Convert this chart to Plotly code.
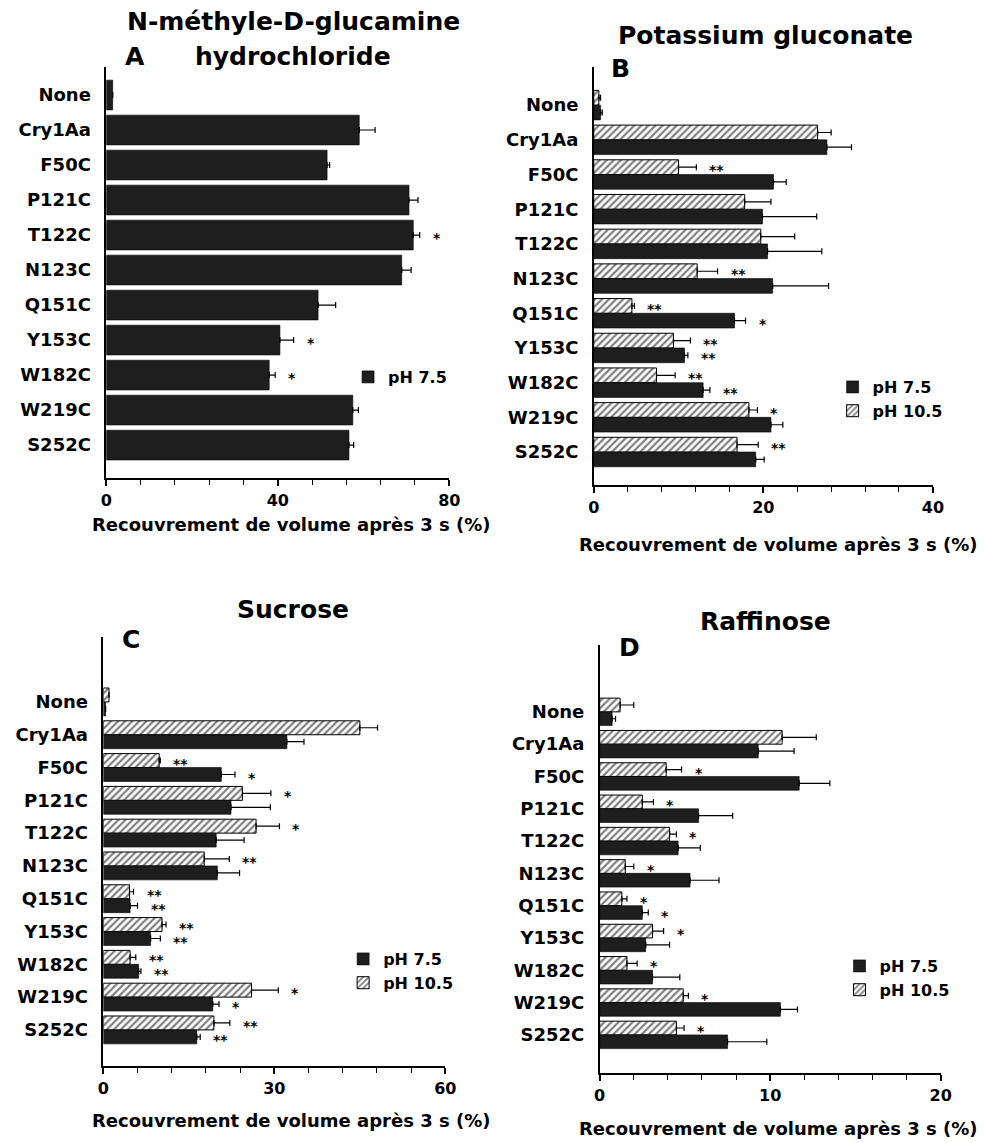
import plotly.graph_objects as go

# ---------------- data ----------------
categories = ["None", "Cry1Aa", "F50C", "P121C", "T122C", "N123C",
              "Q151C", "Y153C", "W182C", "W219C", "S252C"]

# Panel A : N-methyle-D-glucamine hydrochloride (pH 7.5 only)
a_ph75 = [1.5, 59.0, 51.5, 70.6, 71.6, 68.9, 49.4, 40.5, 38.0, 57.5, 56.6]
a_ph75_err = [0, 3.7, 0.6, 2.1, 1.5, 2.2, 4.1, 3.2, 1.4, 1.3, 1.1]
a_ph75_sig = ["", "", "", "", "*", "", "", "*", "*", "", ""]

# Panel B : Potassium gluconate
b_ph75 = [0.8, 27.5, 21.2, 19.9, 20.5, 21.1, 16.6, 10.7, 12.9, 20.9, 19.1]
b_ph75_err = [0.2, 2.9, 1.5, 6.4, 6.4, 6.6, 1.3, 0.4, 0.8, 1.4, 1.0]
b_ph75_sig = ["", "", "", "", "", "", "*", "**", "**", "", ""]
b_ph105 = [0.6, 26.4, 10.0, 17.8, 19.7, 12.2, 4.5, 9.4, 7.4, 18.3, 16.9]
b_ph105_err = [0.2, 1.6, 2.1, 3.1, 4.0, 2.4, 0.3, 2.0, 2.2, 1.0, 2.5]
b_ph105_sig = ["", "", "**", "", "", "**", "**", "**", "**", "*", "**"]

# Panel C : Sucrose
c_ph75 = [0.4, 32.2, 20.7, 22.4, 19.8, 20.0, 4.7, 8.3, 6.2, 19.2, 16.4]
c_ph75_err = [0, 3.0, 2.4, 6.9, 4.9, 3.9, 1.3, 1.7, 0.4, 1.1, 0.6]
c_ph75_sig = ["", "", "*", "", "", "", "**", "**", "**", "*", "**"]
c_ph105 = [1.0, 45.0, 9.8, 24.4, 26.8, 17.7, 4.6, 10.3, 4.7, 26.0, 19.4]
c_ph105_err = [0, 3.1, 0.2, 5.0, 4.1, 4.4, 0.7, 0.7, 1.0, 4.7, 2.8]
c_ph105_sig = ["", "", "**", "*", "*", "**", "**", "**", "**", "*", "**"]

# Panel D : Raffinose
d_ph75 = [0.73, 9.3, 11.7, 5.8, 4.6, 5.3, 2.5, 2.7, 3.1, 10.6, 7.5]
d_ph75_err = [0.2, 2.1, 1.8, 2.0, 1.3, 1.7, 0.35, 1.4, 1.6, 1.0, 2.3]
d_ph75_sig = ["", "", "", "", "", "", "*", "", "", "", ""]
d_ph105 = [1.2, 10.7, 3.9, 2.5, 4.1, 1.5, 1.3, 3.1, 1.6, 4.9, 4.5]
d_ph105_err = [0.8, 2.0, 0.9, 0.65, 0.4, 0.5, 0.3, 0.65, 0.6, 0.3, 0.45]
d_ph105_sig = ["", "", "*", "*", "*", "*", "*", "*", "*", "*", "*"]

series_names = ["pH 7.5", "pH 10.5"]
x_axis_title = "Recouvrement de volume après 3 s (%)"

# ---------------- layout helpers ----------------
W, H = 994, 1143
FONT = "DejaVu Sans"
SOLID = "#1e1e1e"
BARGAP = 0.15


def px(x):
    return x / W


def py(y):
    return 1 - y / H


def bold(size):
    return dict(family=FONT, size=size, color="black", weight="bold")


panels = [
    dict(ax="", legend="legend",
         series=[(series_names[0], a_ph75, a_ph75_err, a_ph75_sig, False)],
         xdom=(102, 451), ydom=(67, 478), yrange=(10.94, -0.8),
         xrange=(0, 80), dtick=40, minor=8,
         titles=[("N-méthyle-D-glucamine", 292, 22), ("hydrochloride", 292, 57)],
         letter=("A", 131, 57), xtitle=(290, 524), legpos=(348, 360)),
    dict(ax="2", legend="legend2",
         series=[(series_names[1], b_ph105, b_ph105_err, b_ph105_sig, True),
                 (series_names[0], b_ph75, b_ph75_err, b_ph75_sig, False)],
         xdom=(598, 943), ydom=(67, 485), yrange=(10.95, -1.1),
         xrange=(0, 40), dtick=20, minor=4,
         titles=[("Potassium gluconate", 773, 35)],
         letter=("B", 625, 68), xtitle=(785, 545), legpos=(841, 370)),
    dict(ax="3", legend="legend3",
         series=[(series_names[1], c_ph105, c_ph105_err, c_ph105_sig, True),
                 (series_names[0], c_ph75, c_ph75_err, c_ph75_sig, False)],
         xdom=(99, 447), ydom=(637, 1066), yrange=(11.1, -1.98),
         xrange=(0, 60), dtick=30, minor=6,
         titles=[("Sucrose", 292, 609)],
         letter=("C", 127, 639), xtitle=(290, 1120), legpos=(343, 942)),
    dict(ax="4", legend="legend4",
         series=[(series_names[1], d_ph105, d_ph105_err, d_ph105_sig, True),
                 (series_names[0], d_ph75, d_ph75_err, d_ph75_sig, False)],
         xdom=(604, 951), ydom=(645, 1073), yrange=(11.18, -2.07),
         xrange=(0, 20), dtick=10, minor=2,
         titles=[("Raffinose", 773, 621)],
         letter=("D", 634, 647), xtitle=(785, 1128), legpos=(848, 949)),
]

fig = go.Figure()
annotations = []
layout = {}

for p in panels:
    xa, ya = "x" + p["ax"], "y" + p["ax"]
    n_series = len(p["series"])
    off = (1 - BARGAP) / 4 if n_series == 2 else 0.0
    for k, (name, vals, errs, sigs, hatched) in enumerate(p["series"]):
        if hatched:
            marker = dict(color="white", line=dict(color="black", width=1),
                          pattern=dict(shape="/", fgcolor="black", bgcolor="white",
                                       size=5, solidity=0.45))
        else:
            marker = dict(color=SOLID, line=dict(color="black", width=0.6))
        fig.add_trace(go.Bar(
            y=categories, x=vals, orientation="h", name=name, marker=marker,
            error_x=dict(type="data", symmetric=False, array=errs,
                         arrayminus=[0] * len(errs), color="black",
                         thickness=1.2, width=3),
            xaxis=xa, yaxis=ya, legend=p["legend"],
            legendrank=1 if name == "pH 7.5" else 2,
        ))
        shift = 0.0 if n_series == 1 else (-off if k == 0 else off)
        for i, s in enumerate(sigs):
            if s:
                annotations.append(dict(
                    x=vals[i] + errs[i], y=i + shift, xref=xa, yref=ya,
                    text=s, showarrow=False, xanchor="left", yanchor="middle",
                    xshift=11, yshift=-3, font=bold(14)))

    suffix = p["ax"]
    layout["xaxis" + suffix] = dict(
        domain=[px(p["xdom"][0]), px(p["xdom"][1])], anchor=ya,
        range=list(p["xrange"]), dtick=p["dtick"], tick0=0,
        showline=True, linecolor="black", linewidth=1.5,
        ticks="outside", ticklen=6, tickwidth=1.5, tickcolor="black",
        minor=dict(dtick=p["minor"], ticks="outside", ticklen=5,
                   tickwidth=1.2, tickcolor="black"),
        showgrid=False, zeroline=False, tickfont=bold(16),
        ticklabelstandoff=1, fixedrange=True)
    layout["yaxis" + suffix] = dict(
        domain=[py(p["ydom"][1]), py(p["ydom"][0])], anchor=xa,
        type="category", categoryorder="array", categoryarray=categories,
        range=list(p["yrange"]), showline=True, linecolor="black",
        linewidth=1.5, ticks="", showgrid=False, zeroline=False,
        tickfont=bold(18), ticklabelstandoff=10, fixedrange=True)
    layout[p["legend"]] = dict(
        x=px(p["legpos"][0]), y=py(p["legpos"][1]), xanchor="left",
        yanchor="top", bgcolor="rgba(0,0,0,0)", font=bold(16),
        traceorder="normal", itemwidth=30)

    for text, tx, ty in p["titles"]:
        annotations.append(dict(x=px(tx), y=py(ty), xref="paper", yref="paper",
                                text=text, showarrow=False, xanchor="center",
                                yanchor="middle", font=bold(25)))
    lt, lx, ly = p["letter"]
    annotations.append(dict(x=px(lx), y=py(ly), xref="paper", yref="paper",
                            text=lt, showarrow=False, xanchor="center",
                            yanchor="middle", font=bold(25)))
    annotations.append(dict(x=px(p["xtitle"][0]), y=py(p["xtitle"][1]),
                            xref="paper", yref="paper", text=x_axis_title,
                            showarrow=False, xanchor="center", yanchor="middle",
                            font=bold(18)))

fig.update_layout(
    width=W, height=H, margin=dict(l=0, r=0, t=0, b=0),
    paper_bgcolor="white", plot_bgcolor="white",
    barmode="group", bargap=BARGAP, bargroupgap=0,
    font=dict(family=FONT, color="black", weight="bold"),
    annotations=annotations, showlegend=True,
    **layout)

fig.write_html("out.html")
